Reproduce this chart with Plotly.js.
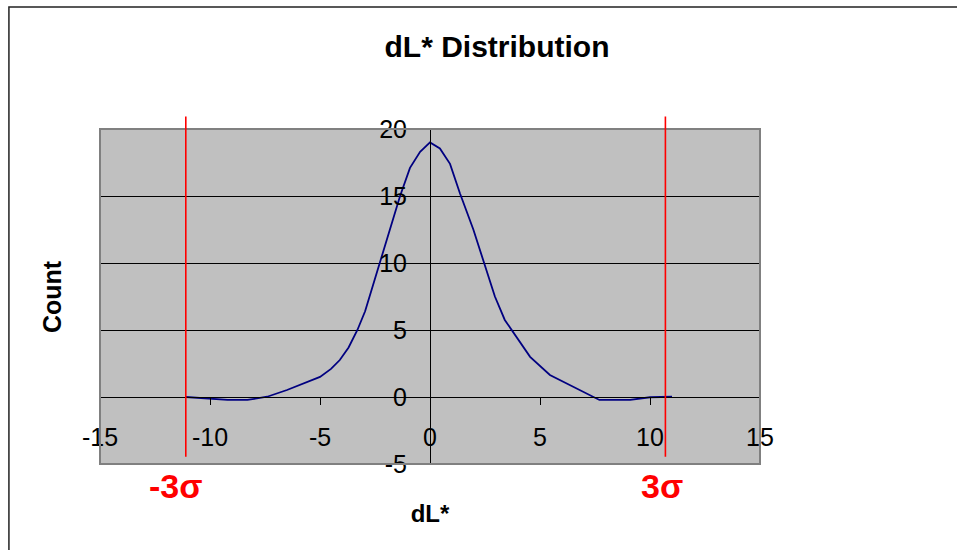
<!DOCTYPE html>
<html>
<head>
<meta charset="utf-8">
<script src="https://cdn.plot.ly/plotly-3.0.1.min.js"></script>
<style>html,body{margin:0;padding:0;background:#fff;}#chart{width:957px;height:550px;}</style>
</head>
<body>
<div id="chart"></div>
<script>
// Data
var dL = [-11.1, -10.1, -9.2, -8.3, -7.4, -6.5, -5.8, -5.0, -4.5, -4.1, -3.7, -3.3, -2.95, -2.65, -2.27, -1.82, -1.36, -0.91, -0.45, 0, 0.45, 0.91, 1.36, 1.97, 2.42, 2.95, 3.4, 3.94, 4.55, 5.45, 6.5, 7.7, 9.1, 10.0, 11.0];
var count = [0, -0.13, -0.22, -0.22, 0.02, 0.52, 0.97, 1.5, 2.1, 2.76, 3.7, 5.0, 6.4, 8.0, 10.2, 12.5, 15.0, 17.1, 18.3, 19.0, 18.55, 17.4, 15.2, 12.5, 10.2, 7.5, 5.75, 4.5, 3.0, 1.64, 0.77, -0.22, -0.22, -0.02, 0.02];
var sigmaLimits = [-11.1, 10.7];
var sigmaLabels = ["-3σ", "3σ"];
var xTicks = [-15, -10, -5, 0, 5, 10, 15];
var yTicks = [-5, 0, 5, 10, 15, 20];

var font = "Liberation Sans, Arial, sans-serif";

var traces = [{
  x: dL, y: count, type: "scatter", mode: "lines",
  line: {color: "#000080", width: 1.8},
  hoverinfo: "x+y", showlegend: false
}];

var shapes = [
  // outer chart frame
  {type: "rect", xref: "paper", yref: "paper", x0: -0.138, x1: 2, y0: -1, y1: 1.364,
   line: {color: "#222", width: 1.5}, fillcolor: "rgba(0,0,0,0)", layer: "below"},
  // plot area border
  {type: "rect", xref: "paper", yref: "paper", x0: 0, x1: 1, y0: 0, y1: 1,
   line: {color: "#808080", width: 2}, fillcolor: "rgba(0,0,0,0)", layer: "above"}
];
sigmaLimits.forEach(function (v) {
  shapes.push({type: "line", xref: "x", yref: "paper", x0: v, x1: v, y0: 0.022, y1: 1.037,
    line: {color: "#ff0000", width: 1.6}, layer: "above"});
});

var annotations = [
  {text: "<b>Count</b>", xref: "paper", yref: "paper", x: (52 - 100) / 660, y: (464 - 297) / 335,
   showarrow: false, textangle: -90, font: {family: font, size: 25, color: "#000"},
   xanchor: "center", yanchor: "middle"}
];
sigmaLimits.forEach(function (v, i) {
  annotations.push({text: "<b>" + sigmaLabels[i] + "</b>", xref: "x", yref: "paper",
    x: v + (i === 0 ? -0.45 : -0.15), y: (464 - 486) / 335, showarrow: false,
    font: {family: font, size: 34, color: "#ff0000"}, xanchor: "center", yanchor: "middle"});
});

var layout = {
  width: 957, height: 550,
  margin: {l: 100, r: 197, t: 129, b: 86},
  paper_bgcolor: "#ffffff",
  plot_bgcolor: "#c0c0c0",
  title: {text: "<b>dL* Distribution</b>", font: {family: font, size: 30, color: "#000"},
          xref: "container", x: 497 / 957, xanchor: "center", yref: "container", y: 1 - 46 / 550, yanchor: "middle"},
  xaxis: {
    range: [-15, 15], tickvals: xTicks, ticktext: xTicks.map(String),
    anchor: "free", position: 0.2,
    showline: true, linecolor: "#000", linewidth: 1,
    ticks: "outside", ticklen: 7, tickcolor: "#000", tickwidth: 1,
    ticklabelstandoff: 11,
    showgrid: false, zeroline: false,
    tickfont: {family: font, size: 25, color: "#000"},
    title: {text: "<b>dL*</b>", font: {family: font, size: 24, color: "#000"}, standoff: 55}
  },
  yaxis: {
    range: [-5, 20], tickvals: yTicks, ticktext: yTicks.map(String),
    anchor: "free", position: 0.5,
    showline: true, linecolor: "#000", linewidth: 1,
    ticks: "outside", ticklen: 8, tickcolor: "#000", tickwidth: 1,
    ticklabelstandoff: 10,
    showgrid: true, gridcolor: "#000", gridwidth: 1, zeroline: false,
    tickfont: {family: font, size: 25, color: "#000"}
  },
  shapes: shapes,
  annotations: annotations,
  showlegend: false
};

Plotly.newPlot("chart", traces, layout, {displayModeBar: false, staticPlot: true});
</script>
</body>
</html>
